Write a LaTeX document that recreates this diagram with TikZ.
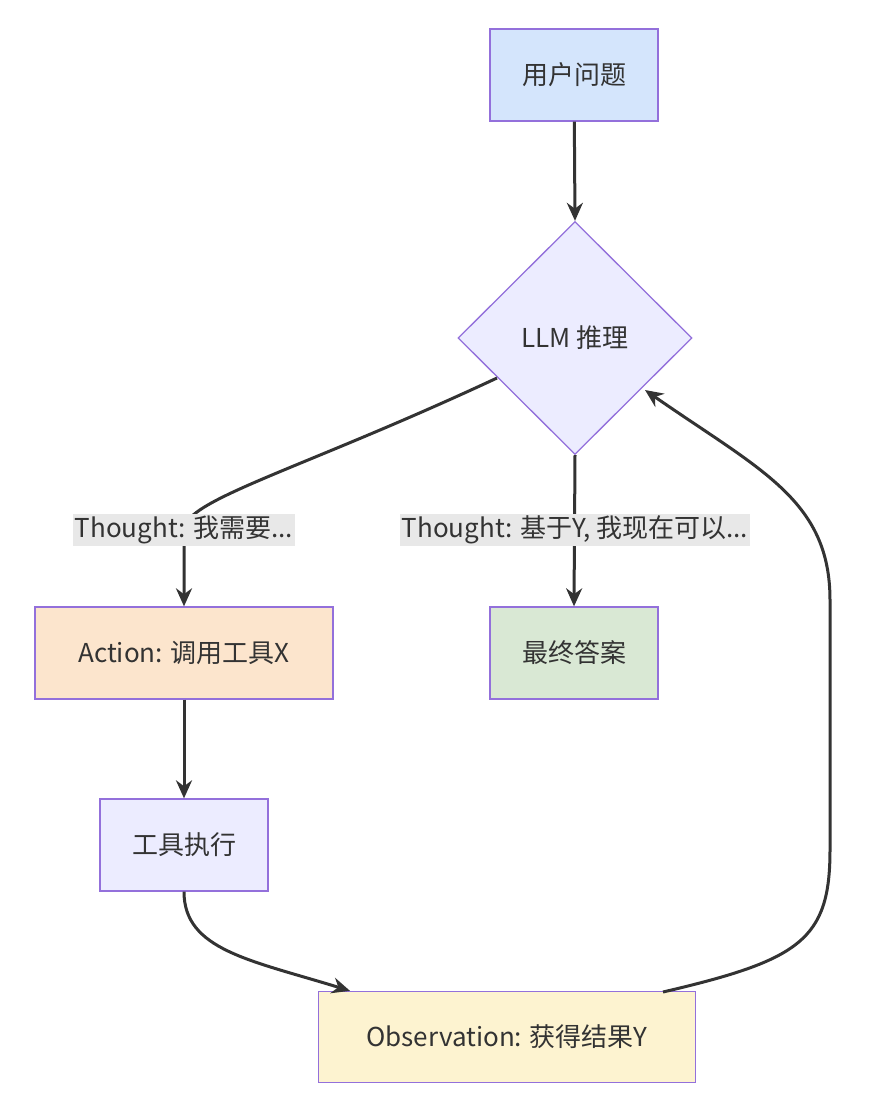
\documentclass[tikz,border=0pt]{standalone}
\usepackage{fontspec}
\setmainfont{Noto Sans CJK SC}
\usetikzlibrary{shapes.geometric,arrows.meta}
\definecolor{bd}{HTML}{9370DB}
\definecolor{cblue}{HTML}{D4E5FC}
\definecolor{cpurp}{HTML}{ECECFF}
\definecolor{corange}{HTML}{FCE5CD}
\definecolor{cgreen}{HTML}{D9E8D4}
\definecolor{cyellow}{HTML}{FDF3D0}
\definecolor{ln}{HTML}{333333}
\definecolor{lbl}{HTML}{E8E8E8}
\begin{document}
\begin{tikzpicture}[x=1pt,y=-1pt,
  box/.style={draw=bd,line width=1.3pt,minimum height=92pt,font=\fontsize{26}{30}\selectfont,text=ln,inner sep=0pt},
  lab/.style={fill=lbl,font=\fontsize{26}{30}\selectfont,text=ln,inner sep=2pt},
  arr/.style={draw=ln,line width=3pt,-{Stealth[length=18pt,width=16pt]}}]
\useasboundingbox (0,0) rectangle (885,1103);
\node[box,fill=cblue,minimum width=168pt] (q) at (574,75) {用户问题};
\node[box,diamond,fill=cpurp,minimum width=234pt,minimum height=233pt,aspect=1] (llm) at (575,338) {LLM 推理};
\node[box,fill=corange,minimum width=298pt] (act) at (184,653) {Action: 调用工具X};
\node[box,fill=cgreen,minimum width=168pt] (ans) at (574,653) {最终答案};
\node[box,fill=cpurp,minimum width=168pt] (tool) at (184,845) {工具执行};
\node[box,fill=cyellow,minimum width=377pt,minimum height=91pt] (obs) at (507,1037) {Observation: 获得结果Y};
\coordinate (l1) at (184,530);
\draw[arr] (q) -- (llm.north);
\draw[arr] (497,378) .. controls (300,470) and (184,500) .. (l1) .. controls (184,560) and (184,570) .. (act.north);
\draw[arr] (llm.south) -- (ans.north);
\draw[arr] (act) -- (tool);
\draw[arr] (tool.south) .. controls (184,950) and (250,960) .. (obs.north -| 350,0);
\draw[arr] (663,992) .. controls (800,960) and (830,940) .. (830,850) -- (830,600) .. controls (830,500) and (760,470) .. (645,390);
\node[lab] (t1) at (184,530) {Thought: 我需要...};
\node[lab] (t2) at (575,530) {Thought: 基于Y, 我现在可以...};
\end{tikzpicture}
\end{document}
